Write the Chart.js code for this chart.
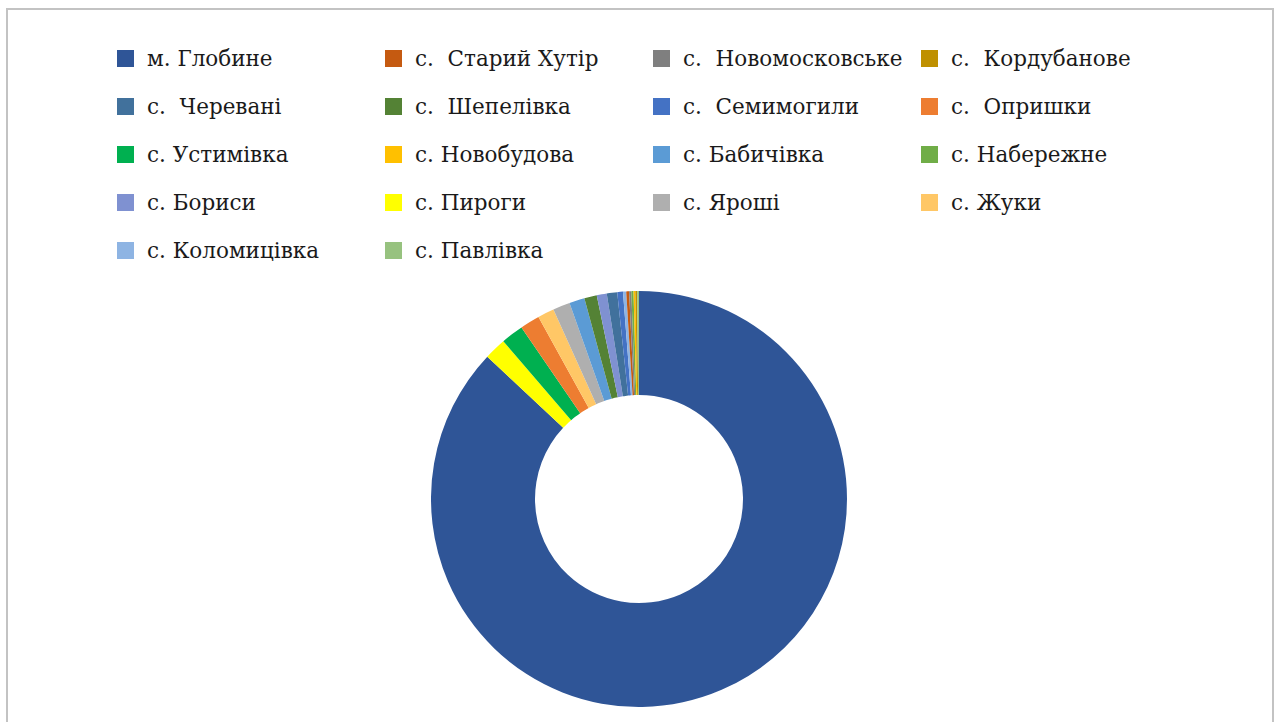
<!DOCTYPE html>
<html>
<head>
<meta charset="utf-8">
<script src="https://cdn.jsdelivr.net/npm/chart.js@4"></script>
<style>
  html, body { margin: 0; padding: 0; background: #fff; }
  body { width: 1278px; height: 722px; position: relative; overflow: hidden; }
  #frame {
    position: absolute; left: 6px; top: 8px; width: 1264px; height: 760px;
    border: 2px solid #c3c3c3;
  }
  #legend {
    position: absolute; left: 117px; top: 34px;
    display: grid; grid-template-columns: repeat(4, 268px); grid-auto-rows: 48px;
    font-family: "DejaVu Serif", serif;
    font-size: 21.5px; color: #1a1a1a;
  }
  .item { display: flex; align-items: center; height: 48px; white-space: pre; }
  .box { width: 17px; height: 17px; margin-right: 13px; flex: none; }
  #wrap { position: absolute; left: 431px; top: 291px; width: 416px; height: 416px; }
</style>
</head>
<body>
<div id="frame"></div>
<div id="legend"></div>
<div id="wrap"><canvas id="donut"></canvas></div>
<script>
// categories in legend order
const categories = [
    'м. Глобине', 'с.  Старий Хутір', 'с.  Новомосковське', 'с.  Кордубанове',
    'с.  Черевані', 'с.  Шепелівка', 'с.  Семимогили', 'с.  Опришки',
    'с. Устимівка', 'с. Новобудова', 'с. Бабичівка', 'с. Набережне',
    'с. Бориси', 'с. Пироги', 'с. Яроші', 'с. Жуки',
    'с. Коломицівка', 'с. Павлівка'
];
// share, %
const values = [
    87.0, 0.22, 0.17, 0.14,
    0.81, 0.97, 0.44, 1.53,
    1.75, 0.14, 1.19, 0.17,
    0.78, 1.70, 1.33, 1.28,
    0.25, 0.14
];
const colors = [
    '#2f5597', '#c55a11', '#7f7f7f', '#bf9000',
    '#41719c', '#548235', '#4472c4', '#ed7d31',
    '#00b050', '#ffc000', '#5b9bd5', '#70ad47',
    '#7f91d1', '#ffff00', '#afafaf', '#ffc766',
    '#8eb4e3', '#97c27f'
];
// order of the slices clockwise from 12 o'clock
const sliceOrder = [0, 13, 8, 7, 15, 14, 10, 5, 12, 4, 6, 16, 1, 2, 11, 9, 3, 17];

const chart = new Chart(document.getElementById('donut'), {
    type: 'doughnut',
    data: {
        labels: sliceOrder.map(i => categories[i]),
        datasets: [{
            data: sliceOrder.map(i => values[i]),
            backgroundColor: sliceOrder.map(i => colors[i]),
            borderWidth: 0
        }]
    },
    options: {
        responsive: true,
        maintainAspectRatio: false,
        animation: false,
        cutout: '50%',
        layout: { padding: 0 },
        plugins: {
            legend: { display: false },
            tooltip: { enabled: false }
        }
    }
});

// html legend, in the original category order
const items = chart.options.plugins.legend.labels.generateLabels(chart);
items.sort((a, b) => sliceOrder[a.index] - sliceOrder[b.index]);
const legendEl = document.getElementById('legend');
items.forEach(it => {
    const div = document.createElement('div');
    div.className = 'item';
    const box = document.createElement('span');
    box.className = 'box';
    box.style.background = it.fillStyle;
    div.appendChild(box);
    div.appendChild(document.createTextNode(it.text));
    legendEl.appendChild(div);
});
</script>
</body>
</html>
